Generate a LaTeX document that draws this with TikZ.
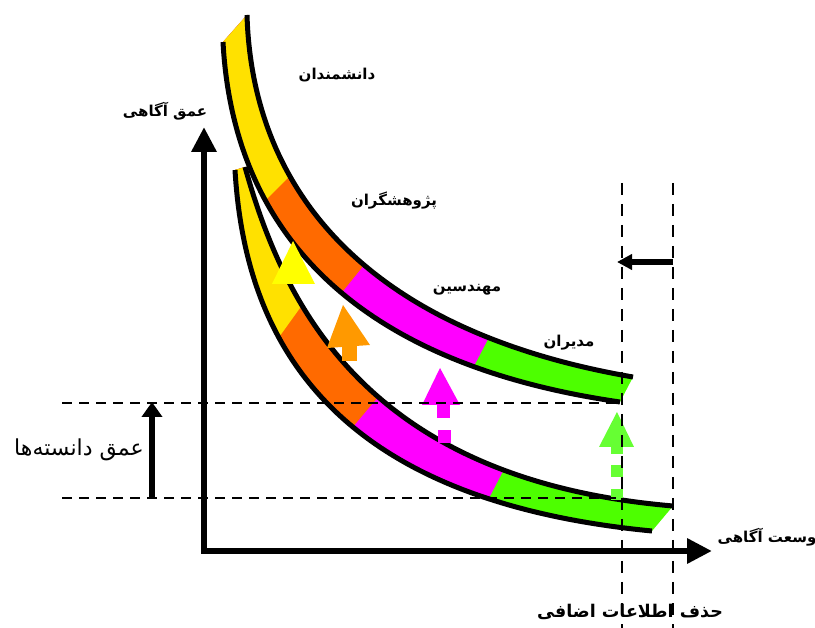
\documentclass[tikz,border=0pt]{standalone}
\usepackage{fontspec}
\usetikzlibrary{arrows.meta}
\newfontfamily\arfont[Script=Arabic]{DejaVu Sans}
\TeXXeTstate=1
\definecolor{bandY}{HTML}{FFE100}
\definecolor{bandO}{HTML}{FF6A00}
\definecolor{bandM}{HTML}{FF00FF}
\definecolor{bandG}{HTML}{4DFF00}
\definecolor{arrY}{HTML}{FFFF00}
\definecolor{arrO}{HTML}{FF9900}
\definecolor{arrM}{HTML}{FF00FF}
\definecolor{arrG}{HTML}{66FF33}
\tikzset{
  edgeline/.style={line width=5pt, black, line join=round},
  hguide/.style={line width=1.8pt, dash pattern=on 10pt off 7pt},
  vguide/.style={line width=1.8pt, dash pattern=on 12pt off 9pt},
  axisline/.style={line width=6.5pt, line join=miter,
    {Triangle[length=25pt,width=24pt]}-{Triangle[length=25pt,width=24pt]}},
  lbl/.style={font=\arfont\bfseries\fontsize{15}{17}\selectfont, inner sep=0pt},
  biglbl/.style={font=\arfont\bfseries\fontsize{17.5}{20}\selectfont, inner sep=0pt},
  plainlbl/.style={font=\arfont\fontsize{22}{25}\selectfont, inner sep=0pt},
}
\begin{document}
\begin{tikzpicture}[x=1pt,y=-1pt]
\useasboundingbox (0,0) rectangle (815,628);

% ---------- upper band ----------
\begin{scope}
  \clip (247,15) .. controls (252,185) and (360,330) .. (633,377)
     -- (620,402) .. controls (330,360) and (232,210) .. (223,42) -- cycle;
  \fill[bandG] (0,0) rectangle (815,628);
  \fill[bandM] (449,414) -- (509,299) -- (509,-10) -- (-10,-10) -- (-10,414) -- cycle;
  \fill[bandO] (309,333) -- (394,228) -- (394,-10) -- (-10,-10) -- (-10,333) -- cycle;
  \fill[bandY] (222,244) -- (332,134) -- (332,-10) -- (-10,-10) -- (-10,244) -- cycle;
\end{scope}
\draw[edgeline] (247,15) .. controls (252,185) and (360,330) .. (633,377);
\draw[edgeline] (620,402) .. controls (330,360) and (232,210) .. (223,42);

% ---------- lower band ----------
\begin{scope}
  \clip (245,167) .. controls (285,310) and (370,480) .. (673,506)
     -- (652,531) .. controls (330,500) and (245,340) .. (235,170) -- cycle;
  \fill[bandG] (0,0) rectangle (815,628);
  \fill[bandM] (464,546) -- (524,431) -- (524,-10) -- (-10,-10) -- (-10,546) -- cycle;
  \fill[bandO] (325,460) -- (405,365) -- (405,-10) -- (-10,-10) -- (-10,460) -- cycle;
  \fill[bandY] (246,383) -- (336,258) -- (336,-10) -- (-10,-10) -- (-10,383) -- cycle;
\end{scope}
\draw[edgeline] (245,167) .. controls (285,310) and (370,480) .. (673,506);
\draw[edgeline] (652,531) .. controls (330,500) and (245,340) .. (235,170);

% ---------- block arrows ----------
\fill[arrY] (293,241) -- (315,284) -- (272,284) -- cycle;
\fill[arrO] (342,346) rectangle (357,361);
\fill[arrO] (343,305) -- (370,345) -- (327,348) -- cycle;
\fill[arrM] (437,405) rectangle (450,418);
\fill[arrM] (438,430) rectangle (451,443);
\fill[arrM] (440,368) -- (460,405) -- (422,405) -- cycle;
\fill[arrG] (611,447) rectangle (623,454);
\fill[arrG] (611,465) rectangle (623,477);
\fill[arrG] (611,489) rectangle (623,500);
\fill[arrG] (617,412) -- (634,447) -- (599,447) -- cycle;

% ---------- guide lines ----------
\coordinate (h1a) at (62,403);  \coordinate (h1b) at (620,403);
\coordinate (h2a) at (62,498);  \coordinate (h2b) at (622,498);
\coordinate (v1a) at (622,183); \coordinate (v1b) at (622,628);
\coordinate (v2a) at (673,183); \coordinate (v2b) at (673,628);
\draw[hguide] (h1a) -- (h1b);
\draw[hguide] (h2a) -- (h2b);
\draw[vguide] (v1a) -- (v1b);
\draw[vguide] (v2a) -- (v2b);

% ---------- axes ----------
\coordinate (ytip) at (204,127);
\coordinate (corner) at (204,551);
\coordinate (xtip) at (712,551);
\draw[axisline] (ytip) -- (corner) -- (xtip);

% depth arrow
\coordinate (da) at (152,498); \coordinate (db) at (152,402);
\draw[line width=5.5pt, -{Triangle[length=15pt,width=20pt]}] (da) -- (db);

% shift arrow
\coordinate (sa) at (673,262); \coordinate (sb) at (617,262);
\draw[line width=5.5pt, -{Triangle[length=15pt,width=15pt]}] (sa) -- (sb);

% ---------- labels ----------
\node[lbl] (t1) at (337,75) {\beginR دانشمندان\endR};
\node[lbl] (t2) at (394,201) {\beginR پژوهشگران\endR};
\node[lbl] (t3) at (467,290) {\beginR مهندسین\endR};
\node[lbl] (t4) at (569,343) {\beginR مدیران\endR};
\node[lbl] (t5) at (165,111) {\beginR عمق آگاهی\endR};
\node[lbl] (t6) at (767,537) {\beginR وسعت آگاهی\endR};
\node[biglbl] (t7) at (630,612) {\beginR حذف اطلاعات اضافی\endR};
\node[plainlbl] (t8) at (79,450) {\beginR عمق دانسته‌ها\endR};
\end{tikzpicture}
\end{document}
